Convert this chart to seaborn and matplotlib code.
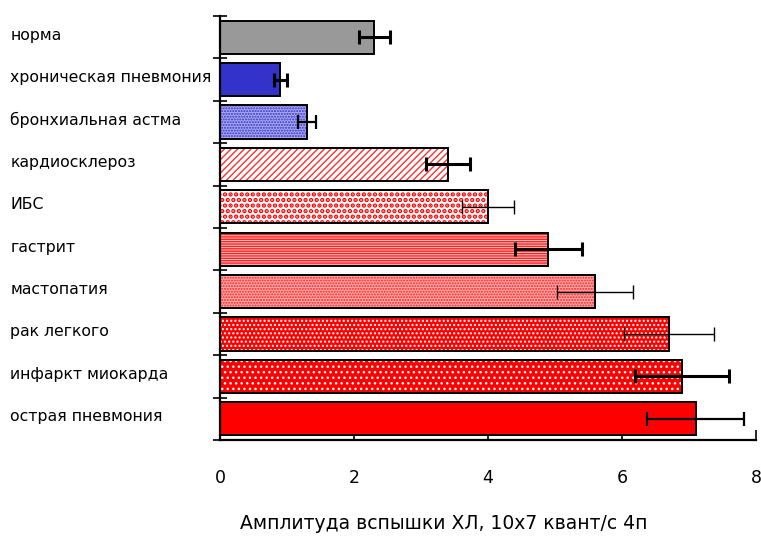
import matplotlib
matplotlib.use("Agg")
import matplotlib.pyplot as plt
import seaborn as sns
import pandas as pd
from matplotlib.patches import Rectangle
from matplotlib.ticker import FixedLocator
import matplotlib.transforms as mtransforms

categories = ["норма", "хроническая пневмония", "бронхиальная астма", "кардиосклероз",
              "ИБС", "гастрит", "мастопатия", "рак легкого", "инфаркт миокарда",
              "острая пневмония"]
values = [2.3, 0.9, 1.3, 3.4, 4.0, 4.9, 5.6, 6.7, 6.9, 7.1]
errors = [0.23, 0.1, 0.14, 0.33, 0.39, 0.5, 0.57, 0.67, 0.7, 0.72]
x_ticks = [0, 2, 4, 6, 8]
x_label = "Амплитуда вспышки ХЛ, 10х7 квант/с 4п"

# styles
face_colors = ["#999999", "#3333cc", "#a8a8ee", "#ffffff", "#ffffff",
               "#ffc8c8", "#ffaaaa", "#ff0000", "#ff0000", "#ff0000"]
hatch_colors = [None, None, "#3333cc", "#ff3030", "#ff0000",
                "#ff2020", "#ff2020", "#ffffff", "#ffffff", None]
hatches = [None, None, "......", "/////", "...", "-------", "......", "....", "...", None]
hatch_lws = [1.0, 1.0, 1.0, 1.0, 2.2, 1.0, 1.0, 1.0, 1.0, 1.0]
err_lw = [2.2, 2.2, 1.6, 2.2, 1.0, 2.2, 1.0, 1.0, 2.2, 1.6]

df = pd.DataFrame({"cat": categories, "val": values})

sns.set_style("white")
plt.rcParams["font.family"] = ["DejaVu Sans"]
plt.rcParams["hatch.linewidth"] = 1.0
plt.rcParams["text.color"] = "black"
plt.rcParams["axes.labelcolor"] = "black"
plt.rcParams["xtick.color"] = "black"
plt.rcParams["ytick.color"] = "black"

fig = plt.figure(figsize=(7.61, 5.45), dpi=100)
ax = fig.add_axes([220 / 761, 1 - 440 / 545, (756 - 220) / 761, (440 - 16) / 545])

sns.barplot(data=df, x="val", y="cat", hue="cat", palette=face_colors,
            orient="h", width=0.78, legend=False, ax=ax, saturation=1,
            linewidth=0, errorbar=None)

for p, fc, hc, h, hlw in zip(ax.patches, face_colors, hatch_colors, hatches, hatch_lws):
    p.set_facecolor(fc)
    p.set_linewidth(0)
    if h:
        p.set_hatch(h)
        p.set_edgecolor(hc)
        if hasattr(p, "set_hatch_linewidth"):
            p.set_hatch_linewidth(hlw)
    outline = Rectangle(p.get_xy(), p.get_width(), p.get_height(), fill=False,
                        edgecolor="black", linewidth=1.4, zorder=3)
    ax.add_patch(outline)

for i, (v, e, lw) in enumerate(zip(values, errors, err_lw)):
    ax.errorbar(v, i, xerr=e, fmt="none", ecolor="black", elinewidth=lw,
                capsize=5, capthick=lw, zorder=4)

ax.set_xlim(0, 8)
ax.set_ylim(len(categories) - 0.5, -0.5)
ax.set_xticks(x_ticks)
ax.set_xticklabels([str(t) for t in x_ticks], fontsize=12.5, color="black")
ax.tick_params(axis="x", direction="in", length=7, width=1.2, pad=21, bottom=True,
               colors="black")

ax.set_yticks(range(len(categories)))
ax.set_yticklabels(categories, fontsize=11.3, color="black")
ax.tick_params(axis="y", which="major", length=0, pad=151)
shift = mtransforms.ScaledTranslation(0, 1.5 / 72, fig.dpi_scale_trans)
for lab in ax.get_yticklabels():
    lab.set_horizontalalignment("left")
    lab.set_verticalalignment("center")
    lab.set_transform(lab.get_transform() + shift)
ax.yaxis.set_minor_locator(FixedLocator([i - 0.5 for i in range(len(categories) + 1)]))
ax.tick_params(axis="y", which="minor", direction="inout", length=10, width=1.2,
               left=True, colors="black")

for s in ["top", "right"]:
    ax.spines[s].set_visible(False)
for s in ["left", "bottom"]:
    ax.spines[s].set_visible(True)
    ax.spines[s].set_color("black")
    ax.spines[s].set_linewidth(1.6)

ax.set_ylabel("")
ax.set_xlabel(x_label, fontsize=13.5, color="black")
ax.xaxis.set_label_coords(0.418, -0.175)

fig.savefig("out.png", dpi=100)
